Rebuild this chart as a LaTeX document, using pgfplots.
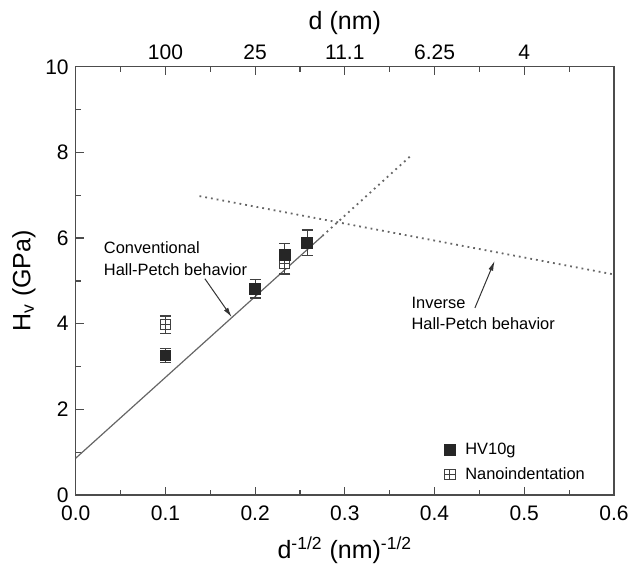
\documentclass[border=0pt]{standalone}
\usepackage{pgfplots}
\pgfplotsset{compat=1.18}
\usepackage{fontspec}
\setmainfont{Liberation Sans}
\usetikzlibrary{arrows.meta}

\pgfdeclareplotmark{sqplus}{%
  \pgfpathrectangle{\pgfqpoint{-\pgfplotmarksize}{-\pgfplotmarksize}}{\pgfqpoint{2\pgfplotmarksize}{2\pgfplotmarksize}}%
  \pgfusepathqfillstroke
  \pgfpathmoveto{\pgfqpoint{-\pgfplotmarksize}{0pt}}\pgfpathlineto{\pgfqpoint{\pgfplotmarksize}{0pt}}%
  \pgfpathmoveto{\pgfqpoint{0pt}{-\pgfplotmarksize}}\pgfpathlineto{\pgfqpoint{0pt}{\pgfplotmarksize}}%
  \pgfusepathqstroke}

\begin{document}
\begin{tikzpicture}
\pgfplotsset{
  common/.style={
    scale only axis, width=269pt, height=214pt,
    xmin=0, xmax=0.6, ymin=0, ymax=10,
    tick align=inside,
    axis line style={black!70, line width=0.7pt},
    every tick/.style={black!70, line width=0.6pt},
    major tick length=4pt, minor tick length=2.5pt,
    tick label style={font=\fontsize{10.5}{12}\selectfont, /pgf/number format/assume math mode=true},
    label style={font=\fontsize{12.5}{14}\selectfont},
  }
}
\begin{axis}[common,
  xtick={0,0.1,...,0.6}, minor x tick num=1,
  ytick={0,2,...,10}, minor y tick num=1,
  xtick pos=lower, ytick pos=left,
  xticklabel style={yshift=-2pt, /pgf/number format/.cd, fixed, fixed zerofill, precision=1},
  xlabel={d\textsuperscript{-1/2} (nm)\textsuperscript{-1/2}},
  ylabel={H\textsubscript{v} (GPa)},
  xlabel style={yshift=-1pt},
  ylabel style={yshift=-2pt},
  clip=false,
  legend style={draw=none, fill=none, at={(axis cs:0.404,0.76)}, anchor=west,
    font=\fontsize{8.2}{10}\selectfont, row sep=1pt, cells={anchor=west},
    legend cell align=left},
]
\path (rel axis cs:-0.1407,-0.1607) rectangle (rel axis cs:1.0428,1.156);
% Hall-Petch line
\addplot[gray!80!black, line width=0.6pt, forget plot] coordinates {(0,0.86) (0.275,6.05)};
\addplot[gray!80!black, line width=0.9pt, dotted, forget plot] coordinates {(0.275,6.05) (0.375,7.95)};
\addplot[gray!80!black, line width=0.9pt, dotted, forget plot] coordinates {(0.138,6.98) (0.6,5.15)};
% Nanoindentation
\addplot[forget plot, only marks, mark=sqplus, mark size=2.6pt, mark options={fill=white, draw=black!75, line width=0.5pt}, black!75,
  error bars/.cd, y dir=both, y explicit, error bar style={black!75, line width=0.6pt},
  error mark options={rotate=90, mark size=2.8pt, black!75, line width=0.6pt}]
  table[x=x, y=y, y error=e] {
  x y e
  0.1 3.98 0.20
  0.233 5.41 0.25
};
% HV10g
\addplot[forget plot, only marks, mark=square*, mark size=2.7pt, mark options={fill=black!85, draw=black!85}, black!75,
  error bars/.cd, y dir=both, y explicit, error bar style={black!75, line width=0.6pt},
  error mark options={rotate=90, mark size=2.8pt, black!75, line width=0.6pt}]
  table[x=x, y=y, y error=e] {
  x y e
  0.1 3.26 0.17
  0.2 4.82 0.22
  0.233 5.60 0.27
  0.258 5.89 0.30
};
\addlegendimage{only marks, mark=square*, mark size=2.7pt, mark options={fill=black!85, draw=black!85}}
\addlegendentry{\hspace{3pt}HV10g}
\addlegendimage{only marks, mark=sqplus, mark size=2.6pt, mark options={fill=white, draw=black!75, line width=0.5pt}}
\addlegendentry{\hspace{3pt}Nanoindentation}
% annotations
\node[anchor=west, align=left, font=\fontsize{8.2}{10.5}\selectfont, inner sep=0pt] at (axis cs:0.031,5.52) {Conventional\\Hall-Petch behavior};
\draw[black!80, line width=0.5pt, -{Latex[length=5pt,width=2.5pt]}] (axis cs:0.144,5.05) -- (axis cs:0.174,4.15);
\node[anchor=west, align=left, font=\fontsize{8.2}{10.5}\selectfont, inner sep=0pt] at (axis cs:0.374,4.23) {Inverse\\Hall-Petch behavior};
\draw[black!80, line width=0.5pt, -{Latex[length=5pt,width=2.5pt]}] (axis cs:0.445,4.37) -- (axis cs:0.467,5.47);
\end{axis}
\begin{axis}[common,
  axis x line*=top, axis y line=none,
  xtick={0.1,0.2,0.3,0.4,0.5}, xticklabels={100,25,11.1,6.25,4},
  minor xtick={0.05,0.15,0.25,0.35,0.45,0.55},
  xlabel={d (nm)},
  xlabel style={yshift=-2pt},
]
\end{axis}
\end{tikzpicture}
\end{document}
